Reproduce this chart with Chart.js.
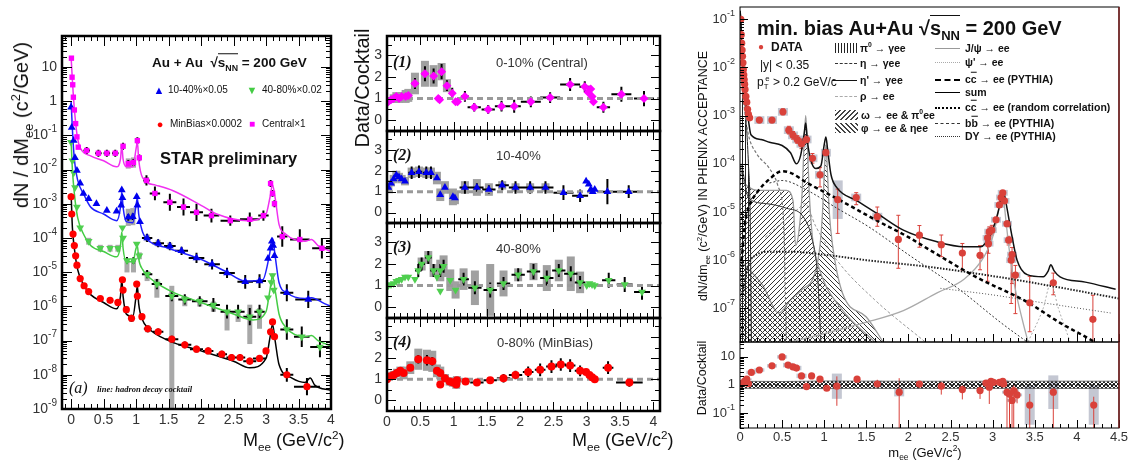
<!DOCTYPE html>
<html>
<head>
<meta charset="utf-8">
<script src="https://cdn.jsdelivr.net/npm/chart.js@4.4.1/dist/chart.umd.min.js"></script>
<style>
body { margin: 0; background: #fff; }
#wrap { position: relative; width: 1132px; height: 464px; overflow: hidden; font-family: "Liberation Sans", Arial, sans-serif; color: #111; }
canvas { position: absolute; }
.t { position: absolute; white-space: nowrap; transform: translateY(-50%); line-height: 1; }
.cc { position: absolute; white-space: nowrap; transform: translate(-50%, -50%); line-height: 1; }
.rot { position: absolute; white-space: nowrap; transform: translate(-50%, -50%) rotate(-90deg); line-height: 1; }
sub, sup { font-size: 65%; line-height: 0; }
.ov { border-top: 1.5px solid currentColor; padding-top: 1px; }
.ol { text-decoration: overline; }
.sw { position: absolute; height: 10px; transform: translateY(-50%); }
.ln { position: absolute; height: 0; }
.it { font-family: "Liberation Serif", "Times New Roman", serif; font-style: italic; }
.lg { font-size: 10.5px; font-weight: bold; }
</style>
</head>
<body>
<div id="wrap">
  <canvas id="star" width="340" height="464" style="left:0;top:0"></canvas>
  <canvas id="r1" width="335" height="464" style="left:335px;top:0"></canvas>
  <canvas id="r2" width="335" height="464" style="left:335px;top:0"></canvas>
  <canvas id="r3" width="335" height="464" style="left:335px;top:0"></canvas>
  <canvas id="r4" width="335" height="464" style="left:335px;top:0"></canvas>
  <canvas id="phx" width="462" height="464" style="left:670px;top:0"></canvas>
  <canvas id="phxr" width="462" height="464" style="left:670px;top:0"></canvas>

  <!-- STAR panel text -->
  <div class="rot" style="left:21px;top:125px;font-size:20px;">dN / dM<sub>ee</sub> (c<sup>2</sup>/GeV)</div>
  <div class="t" style="left:152px;top:63px;font-size:13.5px;font-weight:bold;">Au + Au &nbsp;√<span class="ov">s<sub>NN</sub></span> = 200 GeV</div>
  <div class="cc" style="left:159px;top:90px;font-size:11px;color:#0000ee;">▲</div>
  <div class="t" style="left:168px;top:90px;font-size:10px;">10-40%×0.05</div>
  <div class="cc" style="left:252px;top:90px;font-size:11px;color:#44cc44;">▼</div>
  <div class="t" style="left:262px;top:90px;font-size:10px;">40-80%×0.02</div>
  <div class="cc" style="left:160px;top:124px;font-size:11px;color:#ff0000;">●</div>
  <div class="t" style="left:170px;top:124px;font-size:10px;">MinBias×0.0002</div>
  <div class="cc" style="left:252px;top:124px;font-size:10px;color:#ff00ff;">■</div>
  <div class="t" style="left:262px;top:124px;font-size:10px;">Central×1</div>
  <div class="t" style="left:160px;top:158px;font-size:16.5px;font-weight:bold;">STAR preliminary</div>
  <div class="t it" style="left:69px;top:388px;font-size:16px;">(a)</div>
  <div class="t it" style="left:97px;top:389px;font-size:8.5px;font-weight:bold;">line: hadron decay cocktail</div>
  <div class="t" style="left:243px;top:440px;font-size:18px;">M<sub>ee</sub> (GeV/c<sup>2</sup>)</div>

  <!-- ratio panels text -->
  <div class="rot" style="left:362px;top:88px;font-size:20px;">Data/Cocktail</div>
  <div class="t it" style="left:393px;top:62px;font-size:16px;font-weight:bold;">(1)</div>
  <div class="t it" style="left:393px;top:155px;font-size:16px;font-weight:bold;">(2)</div>
  <div class="t it" style="left:393px;top:247px;font-size:16px;font-weight:bold;">(3)</div>
  <div class="t it" style="left:393px;top:342px;font-size:16px;font-weight:bold;">(4)</div>
  <div class="t" style="left:496px;top:62px;font-size:13px;color:#333;">0-10% (Central)</div>
  <div class="t" style="left:496px;top:155px;font-size:13px;color:#333;">10-40%</div>
  <div class="t" style="left:496px;top:248px;font-size:13px;color:#333;">40-80%</div>
  <div class="t" style="left:497px;top:342px;font-size:13px;color:#333;">0-80% (MinBias)</div>
  <div class="t" style="left:572px;top:440px;font-size:18px;">M<sub>ee</sub> (GeV/c<sup>2</sup>)</div>

  <!-- PHENIX text -->
  <div class="t" style="left:757px;top:28px;font-size:20px;font-weight:bold;">min. bias Au+Au √<span class="ov">s<sub>NN</sub></span> = 200 GeV</div>
  <div class="cc" style="left:761px;top:47px;font-size:10px;color:#d9413a;">●</div>
  <div class="t" style="left:771px;top:47px;font-size:12px;font-weight:bold;">DATA</div>
  <div class="t" style="left:760px;top:65px;font-size:12px;">|y| &lt; 0.35</div>
  <div class="t" style="left:757px;top:82px;font-size:12px;">p<sub>T</sub><sup style="margin-left:-0.4em">e</sup> &gt; 0.2 GeV/c</div>

  <div class="sw" style="left:835px;top:48px;width:22px;background:repeating-linear-gradient(90deg,#222 0 1px,transparent 1px 3px);"></div>
  <div class="t lg" style="left:860px;top:48px;">π<sup>0</sup> → γee</div>
  <div class="ln" style="left:835px;top:63px;width:22px;border-top:1.5px dashed #333;"></div>
  <div class="t lg" style="left:860px;top:63px;">η → γee</div>
  <div class="ln" style="left:832px;top:80px;width:25px;border-top:1px solid #111;"></div>
  <div class="t lg" style="left:860px;top:80px;">η' → γee</div>
  <div class="ln" style="left:835px;top:96px;width:22px;border-top:1px dashed #aaa;"></div>
  <div class="t lg" style="left:860px;top:96px;">ρ → ee</div>
  <div class="sw" style="left:835px;top:115px;width:23px;background:repeating-linear-gradient(135deg,#444 0 1px,transparent 1px 3.5px);"></div>
  <div class="t lg" style="left:861px;top:115px;">ω → ee &amp; π<sup>0</sup>ee</div>
  <div class="sw" style="left:835px;top:128px;width:23px;background:repeating-linear-gradient(45deg,#444 0 1px,transparent 1px 3.5px);"></div>
  <div class="t lg" style="left:861px;top:128px;">φ → ee &amp; ηee</div>

  <div class="ln" style="left:935px;top:48px;width:25px;border-top:1px solid #999;"></div>
  <div class="t lg" style="left:965px;top:48px;">J/ψ → ee</div>
  <div class="ln" style="left:935px;top:62px;width:25px;border-top:1px dotted #aaa;"></div>
  <div class="t lg" style="left:965px;top:62px;">ψ' → ee</div>
  <div class="ln" style="left:935px;top:79px;width:25px;border-top:2.5px dashed #000;"></div>
  <div class="t lg" style="left:965px;top:79px;">c<span class="ol">c</span> → ee (PYTHIA)</div>
  <div class="ln" style="left:935px;top:92px;width:25px;border-top:1.5px solid #000;"></div>
  <div class="t lg" style="left:965px;top:92px;">sum</div>
  <div class="ln" style="left:935px;top:107px;width:25px;border-top:2px dotted #000;"></div>
  <div class="t lg" style="left:965px;top:107px;">c<span class="ol">c</span> → ee (random correlation)</div>
  <div class="ln" style="left:935px;top:123px;width:25px;border-top:1px dashed #333;"></div>
  <div class="t lg" style="left:965px;top:123px;">b<span class="ol">b</span> → ee (PYTHIA)</div>
  <div class="ln" style="left:935px;top:136px;width:25px;border-top:1px dotted #333;"></div>
  <div class="t lg" style="left:965px;top:136px;">DY → ee (PYTHIA)</div>

  <div class="rot" style="left:703px;top:176px;font-size:12.5px;">dN/dm<sub>ee</sub> (c<sup>2</sup>/GeV) IN PHENIX ACCEPTANCE</div>
  <div class="rot" style="left:702px;top:378px;font-size:12.5px;">Data/Cocktail</div>
  <div class="cc" style="left:925px;top:452px;font-size:13px;">m<sub>ee</sub> (GeV/c<sup>2</sup>)</div>
</div>

<script>
// ---------- STAR (left): dN/dMee, scaled spectra ----------
const starXTicks = [0, 0.5, 1, 1.5, 2, 2.5, 3, 3.5, 4];
const starYTicks = [10, 1, 0.1, 1e-2, 1e-3, 1e-4, 1e-5, 1e-6, 1e-7, 1e-8, 1e-9];

// 0-10% central x1 (magenta squares)
const cenX  = [0.005,0.015,0.025,0.035,0.05,0.07,0.09,0.11, 0.24,0.42,0.55,0.68, 0.80,0.88,0.96,1.02,1.05, 1.16,1.29,1.52,1.73,1.93,2.16,2.45,2.75,2.96, 3.07,3.10,3.13, 3.25,3.52,3.86];
const cenY  = [18,5,3,1.3,0.55,0.22,0.09,0.045, 0.036,0.030,0.030,0.030, 0.048,0.015,0.016,0.070,0.022, 0.0048,0.0020,0.0011,0.0008,0.00056,0.00045,0.00032,0.00035,0.00045, 0.0039,0.0020,0.0010, 0.00011,0.00009,0.00005];
const cenEx = [0,0,0,0,0,0,0,0, 0.05,0.05,0.05,0.05, 0,0,0,0,0, 0.05,0.08,0.1,0.1,0.1,0.12,0.15,0.15,0.08, 0,0,0, 0.08,0.15,0.15];
const cenEy = [0,0,0,0,0,0,0,0, 0.1,0.1,0.1,0.1, 0.1,0.1,0.1,0.1,0.1, 0.15,0.2,0.25,0.25,0.25,0.2,0.15,0.2,0.15, 0.1,0.1,0.1, 0.3,0.3,0.3];
const cenSys = [0,0,0,0,0,0,0,0, 0.06,0.06,0.06,0.06, 0.05,0.15,0.15,0.05,0.05, 0.1,0,0,0,0,0,0,0,0, 0,0,0, 0,0,0];
const cenCkX = [0.0,0.02,0.05,0.1,0.15,0.3,0.5,0.7,0.76,0.78,0.8,0.85,0.95,1.0,1.02,1.04,1.1,1.3,1.57,2.0,2.24,2.72,3.0,3.06,3.1,3.14,3.2,3.3,3.6,3.7,3.8,4.0];
const cenCkY = [20,4,0.6,0.08,0.04,0.025,0.018,0.012,0.02,0.05,0.02,0.012,0.012,0.04,0.065,0.02,0.0058,0.0035,0.0024,0.0009,0.0005,0.00032,0.0005,0.0015,0.0035,0.0015,0.00025,0.00013,0.00008,0.00009,0.00006,0.00004];

// 10-40% x0.05 (blue triangles)
const b1X  = [0.0,0.01,0.04,0.06,0.09,0.14,0.19,0.27,0.39,0.55,0.70, 0.77,0.78,0.79, 0.88,0.95, 1.01,1.02,1.06, 1.17,1.34,1.52,1.70,1.93,2.17,2.40,2.68,2.90, 3.03,3.07,3.09,3.11,3.13, 3.32,3.65];
const b1Y  = [0.66,0.17,0.07,0.022,0.0093,0.004,0.002,0.0014,0.001,0.00063,0.0006, 0.0009,0.0025,0.0015, 0.0004,0.00042, 0.0016,0.0009,0.0003, 1.0e-4,7e-5,5.8e-5,4.2e-5,2.6e-5,1.7e-5,9.5e-6,5.2e-6,5.5e-6, 2.5e-5,5e-5,8e-5,6e-5,3e-5, 2.5e-6,1.6e-6];
const b1Ex = [0,0,0,0,0,0,0,0,0,0,0, 0,0,0, 0.03,0.03, 0,0,0, 0.08,0.09,0.09,0.1,0.12,0.12,0.12,0.12,0.1, 0,0,0,0,0, 0.1,0.2];
const b1Ey = [0,0,0,0,0,0,0,0,0,0,0, 0,0,0, 0.1,0.1, 0,0,0, 0.12,0.12,0.12,0.12,0.15,0.15,0.15,0.2,0.2, 0.05,0.05,0.05,0.05,0.05, 0.25,0.25];
const b1Sys = [0,0,0,0,0,0,0,0,0,0,0, 0,0,0, 0.25,0.25, 0,0,0, 0.1,0.1,0.1,0,0,0,0,0,0, 0,0,0,0,0, 0,0];
const b1CkX = [0.0,0.02,0.05,0.1,0.2,0.3,0.5,0.7,0.76,0.78,0.8,0.85,0.95,1.0,1.02,1.04,1.1,1.17,1.5,1.97,2.4,2.68,2.95,3.05,3.1,3.14,3.2,3.32,3.6,3.7,3.9,4.0];
const b1CkY = [1,0.15,0.02,0.005,0.0018,0.0008,0.0005,0.00032,0.0008,0.0022,0.0008,0.0003,0.00028,0.0009,0.0015,0.0005,0.00015,9e-5,5e-5,2.5e-5,1e-5,5.5e-6,6e-6,3e-5,1e-4,3e-5,5e-6,2.5e-6,1.7e-6,1.8e-6,1.2e-6,1e-6];

// 40-80% x0.02 (green inverted triangles)
const g2X  = [0.0,0.02,0.04,0.06,0.09,0.14,0.27,0.45,0.60,0.72, 0.79,0.80, 0.86,0.96, 1.01,1.05, 1.17,1.32,1.55,1.75,1.98,2.19,2.40,2.57,2.75,2.90, 3.03,3.08,3.10,3.12, 3.32,3.55,3.83];
const g2Y  = [0.063,0.018,0.008,0.003,0.0008,0.0002,8e-5,5e-5,5e-5,5e-5, 2e-4,1e-4, 2.2e-5,2.2e-5, 6.6e-5,3e-5, 8.7e-6,4.5e-6,2e-6,1.6e-6,1.4e-6,1.1e-6,7e-7,7e-7,5e-7,7e-7, 1.8e-6,5e-6,8e-6,3e-6, 2.1e-7,1.3e-7,6.5e-8];
const g2Ex = [0,0,0,0,0,0,0,0,0,0, 0,0, 0.03,0.03, 0,0, 0.08,0.08,0.1,0.1,0.12,0.1,0.1,0.1,0.1,0.08, 0,0,0,0, 0.1,0.12,0.15];
const g2Ey = [0,0,0,0,0,0,0,0,0,0, 0,0, 0.1,0.1, 0,0, 0.12,0.15,0.15,0.15,0.15,0.2,0.2,0.2,0.25,0.2, 0.05,0.05,0.05,0.05, 0.3,0.3,0.3];
const g2SysUp = [0,0,0,0,0,0,0.1,0.1,0.1,0.1, 0,0, 0.05,0.05, 0,0.1, 0.1,0.15,0.3,0.1,0.1,0.1,0.05,0.05,0.35,0.1, 0,0,0,0, 0,0,0];
const g2SysDn = [0,0,0,0,0,0,0.1,0.1,0.1,0.1, 0,0, 0.35,0.35, 0,0.1, 0.2,0.4,3.5,0.2,0.15,0.2,0.55,0.3,0.8,0.5, 0,0,0,0, 0,0,0];
const g2CkX = [0.0,0.02,0.05,0.1,0.2,0.3,0.5,0.7,0.76,0.78,0.8,0.85,0.95,1.0,1.02,1.04,1.1,1.17,1.5,2.0,2.5,2.8,3.0,3.06,3.1,3.14,3.2,3.3,3.6,3.7,3.8,4.0];
const g2CkY = [0.07,0.01,0.002,0.0004,0.00012,6e-5,4e-5,2.8e-5,6e-5,1.5e-4,5e-5,2e-5,2e-5,5e-5,6e-5,2.5e-5,1.2e-5,8e-6,3e-6,1.3e-6,6e-7,4e-7,7e-7,3e-6,8e-6,3e-6,6e-7,2.5e-7,1.3e-7,1.4e-7,1e-7,7e-8];

// MinBias x0.0002 (red circles)
const mbX  = [0.0,0.01,0.03,0.05,0.07,0.09,0.14,0.20,0.27,0.45,0.60,0.72, 0.79,0.80, 0.85,0.93, 1.01,1.02,1.09, 1.18,1.34,1.55,1.75,1.93,2.11,2.32,2.47,2.60,2.75,2.90, 3.00,3.07,3.10,3.13, 3.32,3.63];
const mbY  = [1.6e-3,5e-4,1.3e-4,6e-5,3e-5,1.6e-5,6.5e-6,4e-6,2.7e-6,1.7e-6,1.5e-6,1.3e-6, 6e-6,3e-6, 8e-7,4.5e-7, 4.5e-6,2e-6,5e-7, 2.2e-7,1.8e-7,1.1e-7,7.5e-8,5.6e-8,5e-8,4e-8,3.2e-8,3.2e-8,2.5e-8,3e-8, 5e-8,1.8e-7,3.5e-7,1.3e-7, 1e-8,4.5e-9];
const mbEx = [0,0,0,0,0,0,0,0,0,0,0,0, 0,0, 0.03,0.03, 0,0,0, 0.06,0.08,0.1,0.1,0.1,0.08,0.08,0.08,0.08,0.1,0.1, 0,0,0,0, 0.1,0.2];
const mbEy = [0,0,0,0,0,0,0,0,0,0,0,0, 0,0, 0.1,0.1, 0,0,0, 0.1,0.1,0.1,0.1,0.1,0.1,0.1,0.1,0.1,0.1,0.1, 0.05,0.05,0.05,0.05, 0.2,0.25];
const mbSys = [0,0,0,0,0,0,0,0,0,0,0,0, 0,0, 0.1,0.1, 0,0,0, 0.1,0,0,0,0,0,0,0,0,0,0, 0,0,0,0, 0,0];
const mbCkX = [0.0,0.02,0.05,0.1,0.2,0.3,0.5,0.7,0.76,0.78,0.8,0.85,0.95,1.0,1.02,1.04,1.1,1.17,1.5,2.0,2.5,2.75,3.0,3.06,3.1,3.14,3.2,3.4,3.6,3.68,3.75,4.0];
const mbCkY = [2e-3,2e-4,5e-5,1.2e-5,4e-6,2.2e-6,1.3e-6,8.5e-7,2e-6,6e-6,2e-6,6e-7,5e-7,2e-6,4e-6,1.2e-6,4e-7,2.5e-7,1e-7,5e-8,2.5e-8,1.6e-8,3e-8,1.2e-7,3e-7,1e-7,2e-8,8e-9,6e-9,8e-9,5e-9,3.5e-9];

// ---------- Data/Cocktail panels (middle) ----------
const midXTicks = [0, 0.5, 1, 1.5, 2, 2.5, 3, 3.5, 4];
const midYTicks = [0, 1, 2, 3];
const ratioRef = 1;

const r1X  = [0.02,0.06,0.10,0.14,0.18,0.22,0.28,0.32, 0.42,0.57,0.70,0.77,0.79,0.82,0.90,0.98,1.03,1.06, 1.17,1.31,1.52,1.72,1.91,2.16,2.45,2.75,2.97, 3.02,3.06,3.08,3.10, 3.25,3.52,3.86];
const r1Y  = [0.85,0.95,1.0,1.1,1.0,1.1,1.1,1.15, 1.7,2.15,2.05,1.0,0.95,2.25,1.6,1.25,0.85,0.85, 1.1,0.6,0.5,0.65,0.65,0.85,1.05,1.65,1.55, 1.3,1.45,1.1,0.85, 0.6,1.2,1.0];
const r1Ex = [0,0,0,0,0,0,0,0, 0.05,0.05,0.05,0,0,0.05,0.03,0.03,0,0, 0.06,0.1,0.1,0.1,0.1,0.15,0.15,0.15,0.08, 0,0,0,0, 0.1,0.15,0.15];
const r1Ey = [0,0,0,0,0,0,0,0, 0.25,0.35,0.35,0,0,0.35,0.25,0.25,0,0, 0.25,0.2,0.2,0.25,0.3,0.25,0.25,0.3,0.25, 0,0,0,0, 0.25,0.35,0.35];
const r1Sys = [0,0,0.2,0.2,0.2,0.2,0.3,0.3, 0.5,0.6,0.5,0,0,0.4,0.3,0,0,0, 0,0,0,0,0,0,0,0,0, 0,0,0,0, 0,0,0];

const r2X  = [0.02,0.06,0.10,0.14,0.18,0.22,0.27, 0.37,0.48,0.59,0.66,0.75,0.80,0.87,0.99,1.02, 1.17,1.35,1.53,1.73,1.93,2.15,2.38,2.65,2.90, 2.99,3.03,3.06,3.09,3.12, 3.31,3.63];
const r2Y  = [1.2,1.4,1.6,1.8,1.7,1.6,1.5, 1.9,1.95,1.9,1.9,1.65,0.85,1.2,0.75,0.7, 1.2,1.2,1.1,1.3,1.2,1.2,1.2,0.95,0.8, 1.5,1.35,1.1,1.0,1.1, 1.0,1.0];
const r2Ex = [0,0,0,0,0,0,0, 0.05,0.05,0.05,0.03,0,0,0,0,0, 0.08,0.1,0.1,0.1,0.1,0.12,0.12,0.15,0.12, 0,0,0,0,0, 0.15,0.15];
const r2Ey = [0,0,0,0,0,0,0, 0.3,0.3,0.3,0.3,0,0,0,0,0, 0.3,0.2,0.2,0.25,0.3,0.3,0.3,0.35,0.3, 0,0,0,0,0, 0.6,0.3];
const r2Sys = [0.15,0.15,0.2,0.2,0.2,0.2,0.2, 0.25,0.25,0.25,0.25,0.3,0.3,0.3,0.4,0.3, 0.3,0.4,0.3,0.2,0.2,0.2,0.2,0,0, 0,0,0,0,0, 0,0];

const r3X  = [0.02,0.06,0.10,0.14,0.18,0.22,0.27,0.32, 0.42,0.47,0.52,0.62,0.70,0.75,0.80,0.80,0.85,0.95,1.03, 1.15,1.32,1.55,1.75,1.97,2.20,2.40,2.58,2.76,2.90, 3.00,3.04,3.08,3.12, 3.33,3.57,3.83];
const r3Y  = [1.0,1.05,1.1,1.2,1.25,1.3,1.4,1.4, 1.3,1.7,2.0,2.3,1.7,1.4,1.7,0.75,1.9,1.25,0.8, 1.3,0.9,0.8,1.1,1.5,1.65,1.35,1.7,1.55,1.15, 1.0,1.1,1.05,1.0, 1.25,1.05,0.7];
const r3Ex = [0,0,0,0,0,0,0,0, 0,0.05,0.05,0.05,0.05,0,0.03,0,0.03,0,0, 0.08,0.1,0.1,0.1,0.1,0.1,0.1,0.1,0.1,0.08, 0,0,0,0, 0.1,0.12,0.12];
const r3Ey = [0,0,0,0,0,0,0,0, 0,0.3,0.3,0.3,0.3,0,0.3,0,0.3,0,0, 0.3,0.3,0.35,0.3,0.3,0.35,0.35,0.3,0.35,0.3, 0,0,0,0, 0.35,0.35,0.35];
const r3Sys = [0,0,0,0,0,0,0,0, 0,0,0.3,0.3,0.3,0,0.5,0,0.5,0.5,0.4, 0.5,0.8,1.2,0.6,0.3,0.4,0.6,0.5,0.8,0.5, 0,0,0,0, 0,0,0];

const r4X  = [0.0,0.05,0.10,0.15,0.20,0.25,0.35, 0.47,0.60,0.68,0.75,0.80,0.80,0.87,0.94,0.99,1.04,1.05, 1.18,1.35,1.55,1.75,1.93,2.12,2.30,2.47,2.61,2.75,2.90, 2.99,3.04,3.08,3.12, 3.32,3.64];
const r4Y  = [1.0,1.15,1.2,1.3,1.4,1.3,1.55, 1.95,1.9,1.85,1.4,1.3,0.75,1.05,0.9,0.85,0.75,0.95, 0.9,0.85,0.95,1.05,1.2,1.35,1.45,1.6,1.7,1.65,1.4, 1.35,1.2,1.1,1.0, 1.55,0.85];
const r4Ex = [0,0,0,0,0,0,0, 0.05,0.05,0.05,0,0,0,0,0,0,0,0, 0.06,0.1,0.1,0.1,0.1,0.08,0.08,0.08,0.08,0.08,0.08, 0,0,0,0, 0.08,0.2];
const r4Ey = [0,0,0,0,0,0,0, 0.2,0.25,0.2,0,0,0,0,0,0,0,0, 0.15,0.15,0.15,0.2,0.2,0.25,0.3,0.3,0.3,0.3,0.25, 0,0,0,0, 0.3,0.2];
const r4Sys = [0,0,0.2,0.2,0.2,0.3,0.3, 0.5,0.5,0.5,0.3,0.3,0,0.2,0.2,0.2,0.2,0.2, 0,0,0,0,0,0,0,0,0,0,0, 0,0,0,0, 0,0];

// ---------- PHENIX (right) ----------
const phxXTicks = [0, 0.5, 1, 1.5, 2, 2.5, 3, 3.5, 4, 4.5];
const phxYTicks = [0.1, 1e-2, 1e-3, 1e-4, 1e-5, 1e-6, 1e-7];
const phxRTicks = [10, 1, 0.1];

const phxX = [0.010,0.015,0.020,0.025,0.030,0.035,0.040,0.045,0.050,0.055,0.060,0.070,0.080,0.090,0.100,0.115, 0.23,0.38,0.51,0.58,0.63,0.68,0.73,0.79,0.86,0.95,1.02, 1.16,1.38,1.63,1.88,2.13,2.39,2.64,2.85, 2.94,2.95,2.96,2.99,3.04,3.08,3.10,3.12,3.14,3.17,3.19,3.22,3.23,3.27, 3.44,3.72,4.19];
const phxY = [0.1,0.048,0.032,0.023,0.017,0.0125,0.009,0.007,0.0056,0.0045,0.0035,0.0025,0.0019,0.00135,0.00107,0.0009, 8.1e-4,8.1e-4,1.2e-3,5e-4,3.9e-4,3.2e-4,2.6e-4,3.2e-4,1.3e-4,5.9e-5,1.7e-4, 1.8e-5,2e-5,8e-6,2.7e-6,3.3e-6,2.1e-6,1.4e-6,1.26e-6, 2.9e-6,2.2e-6,3.9e-6,4.2e-6,6.9e-6,1.4e-5,2e-5,2.5e-5,1.7e-5,5.7e-6,2.6e-6,1e-6,1.3e-6,4.9e-7, 1.3e-7,3.4e-7,5.9e-8];
const phxEup = [0,0,0,0,0,0,0,0,0,0,0,0,0,0,0,0, 0.04,0.04,0.06,0.08,0.08,0.08,0.1,0.08,0.1,0.15,0.06, 0.22,0.1,0.2,0.5,0.2,0.2,0.2,0.2, 0.1,0.15,0.1,0.1,0.05,0.05,0.04,0.04,0.04,0.06,0.08,0.15,0.15,0.2, 0.55,0.2,0.5];
const phxEdn = [0,0,0,0,0,0,0,0,0,0,0,0,0,0,0,0, 0.04,0.04,0.06,0.08,0.08,0.08,0.1,0.08,0.1,0.25,0.06, 0.7,0.15,0.2,0.6,0.25,0.25,0.35,0.3, 0.9,0.2,0.1,0.1,0.05,0.05,0.04,0.04,0.04,0.06,0.1,0.9,0.6,0.8, 0.6,0.25,2];
const phxSys = [0,0,0,0,0,0,0,0,0,0,0,0,0,0,0,0, 0.08,0.08,0.08,0.08,0.08,0.08,0.08,0.08,0.08,0.08,0.08, 0.4,0.08,0.08,0,0,0,0,0, 0.06,0.06,0.06,0.06,0.06,0.06,0.06,0.06,0.06,0.06,0.06,0.06,0.06,0.06, 0,0,0];

// cocktail components
const sumX = [0.0,0.01,0.02,0.04,0.07,0.1,0.13, 0.25,0.35,0.5,0.6,0.67,0.72,0.76,0.78,0.8,0.84, 0.9,0.96,1.0,1.02,1.04,1.08,1.15, 1.39,1.63,1.94,2.34,2.66,2.86, 2.98,3.04,3.08,3.11,3.14,3.17,3.23,3.29, 3.41,3.6,3.66,3.69,3.73,3.8,4.1,4.46];
const sumY = [0.15,0.1,0.03,0.006,0.0018,8e-4,4e-4, 3.2e-4,2.8e-4,2.4e-4,1.7e-4,1e-4,1.5e-4,4e-4,7e-4,3e-4,1.2e-4, 8e-5,9e-5,2.5e-4,3.6e-4,2e-4,6e-5,3.2e-5, 1.7e-5,9.3e-6,4.2e-6,2.4e-6,1.9e-6,1.9e-6, 3.6e-6,7e-6,1.3e-5,2.6e-5,2.2e-5,1.2e-5,3.1e-6,1e-6, 5e-7,4.5e-7,6e-7,8e-7,6e-7,4.5e-7,3.5e-7,2.5e-7];
const ccX = [0.02,0.06,0.1,0.2,0.35,0.5,0.6,0.8,1.15,1.6,2.0,2.26,2.8,3.41,3.8,4.17,4.3];
const ccY = [1e-6,6e-6,1.2e-5,2.5e-5,4.8e-5,7e-5,6.5e-5,4e-5,1.9e-5,7e-6,3e-6,1.6e-6,4.5e-7,1.35e-7,5e-8,2.2e-8,1.6e-8];
const rcX = [0.03,0.1,0.2,0.35,0.6,1.0,1.5,2.26,3.06,3.8,4.5];
const rcY = [2e-7,8e-7,1.3e-6,1.5e-6,1.5e-6,1.3e-6,1e-6,7.2e-7,4.5e-7,2.7e-7,1.6e-7];
const bbX = [0.35,0.5,0.8,1.15,1.53,2.0,2.6,3.1,3.41];
const bbY = [4e-5,4.5e-5,2.8e-5,1.2e-5,4.9e-6,1.3e-6,2.5e-7,5e-8,2e-8];
const dyX = [2.38,3.0,3.6,4.4];
const dyY = [2.6e-7,1.9e-7,1.3e-7,8e-8];
const jpsiX = [0.6,1.0,1.47,1.94,2.34,2.66,2.9,3.0,3.05,3.08,3.1,3.13,3.16,3.2,3.26,3.35,3.42];
const jpsiY = [2e-8,3e-8,5e-8,9e-8,2.1e-7,4e-7,1.2e-6,3e-6,7e-6,1.4e-5,2.4e-5,1.8e-5,6e-6,1.5e-6,3e-7,6e-8,2e-8];
const psi2X = [3.42,3.6,3.69,3.78,3.92];
const psi2Y = [2e-8,1e-7,3.3e-7,1e-7,2e-8];
const etaX = [0.02,0.05,0.1,0.2,0.35,0.45,0.52,0.55];
const etaY = [5e-3,1.5e-3,4e-4,1.6e-4,8e-5,3.5e-5,5e-6,2e-8];
const etapX = [0.02,0.1,0.3,0.55,0.75,0.85,0.92,0.96];
const etapY = [1e-4,2e-5,1.5e-5,1.2e-5,8e-6,3e-6,5e-7,2e-8];
const rhoX = [0.3,0.5,0.7,0.77,0.9,1.15,1.6,2.2];
const rhoY = [3e-6,6e-6,1.2e-5,1.5e-5,5e-6,1e-6,1.5e-7,2e-8];
const pi0X = [0.0,0.02,0.05,0.08,0.1,0.12,0.135];
const pi0Y = [0.15,0.03,0.003,5e-4,1e-4,1e-5,2e-8];
const omX = [0.0,0.05,0.27,0.55,0.63,0.66,0.7,0.74,0.76,0.78,0.8,0.82,0.86,0.95,1.2,1.6];
const omY = [1e-4,4e-5,2.8e-5,2.8e-5,1.7e-5,2e-6,4e-6,3e-5,2.5e-4,1e-3,2.5e-4,3e-5,3e-6,6e-7,1e-7,2e-8];
const phiX = [0.0,0.27,0.46,0.6,0.73,0.89,0.95,0.98,1.0,1.02,1.04,1.06,1.1,1.22,1.5,1.7];
const phiY = [1e-6,3e-7,8e-8,1.5e-7,2.4e-7,5.4e-7,2e-6,1e-5,6e-5,2.5e-4,6e-5,1e-5,2e-6,2e-7,6.6e-8,2e-8];

// PHENIX Data/Cocktail
const prX = [0.01,0.02,0.04,0.06,0.08,0.10, 0.135,0.23,0.38,0.50,0.57,0.63,0.67,0.73,0.79,0.85,0.95,1.03,1.15,1.39,1.63,1.89,2.13,2.39,2.64,2.85, 2.92,2.96,2.98,3.01,3.08,3.12,3.13,3.17,3.20,3.23,3.25,3.29, 3.44,3.72,4.20];
const prY = [1.08,1.1,1.2,1.4,1.6,1.1, 2.8,3.4,4.8,10,5.1,4.4,4.0,2.1,0.87,2.1,1.6,0.76,0.9,1.6,1.08,0.55,1.08,0.9,0.68,0.63, 1.17,0.83,1.35,1.24,1.24,1.35,1.08,0.55,0.46,0.28,0.63,0.44, 0.19,0.55,0.19];
const prEup = [0,0,0,0,0,0, 0,0,0,0,0.05,0.05,0.05,0.1,0.1,0.1,0.1,0.05,0.35,0.1,0.15,0.5,0.1,0.15,0.15,0.15, 0.1,0.15,0.1,0.1,0.05,0.05,0.05,0.1,0.15,0.15,0.2,0.2, 0.4,0.1,0.3];
const prEdn = [0,0,0,0,0,0, 0,0,0,0,0.05,0.05,0.05,0.1,0.1,0.1,0.1,0.05,0.7,0.1,0.15,1.5,0.15,0.3,0.35,0.3, 0.1,0.6,0.1,0.1,0.05,0.05,0.05,1.5,1.5,1.5,1.5,0.3, 1.5,1.5,1.5];
const prSys = [0.03,0.03,0.03,0.03,0.03,0.03, 0.06,0.06,0.06,0.06,0.08,0.08,0.08,0.08,0.05,0,0,0,0.45,0,0.12,0.15,0,0,0,0, 0.05,0.05,0.05,0.05,0.05,0.05,0.05,0.05,0.05,0.05,0.05,0.05, 0.7,0.6,0.7];
const prBandX  = [0, 0.5, 1.0, 1.5, 2.5, 3.5, 4.5];
const prBandLo = [0.75, 0.76, 0.74, 0.75, 0.75, 0.75, 0.75];
const prBandHi = [1.35, 1.32, 1.38, 1.36, 1.35, 1.36, 1.36];

// ---------- helpers ----------
const FONT = '"Liberation Sans", Arial, sans-serif';

function pts(xs, ys) { return xs.map((x, i) => ({x, y: ys[i]})); }

// error crosses; log panels use errors in decades
function bars(xs, ys, ex, eyUp, eyDn, log) {
  return xs.map((x, i) => ({
    x, y: ys[i], x0: x - ex[i], x1: x + ex[i],
    y0: log ? ys[i] / Math.pow(10, eyDn[i]) : ys[i] - eyDn[i],
    y1: log ? ys[i] * Math.pow(10, eyUp[i]) : ys[i] + eyUp[i]
  }));
}
function boxes(xs, ys, up, dn, log) {
  return xs.map((x, i) => (up[i] || dn[i]) ? {
    x, lo: log ? ys[i] / Math.pow(10, dn[i]) : ys[i] - dn[i],
    hi: log ? ys[i] * Math.pow(10, up[i]) : ys[i] + up[i]
  } : null);
}
const zeros = n => new Array(n).fill(0);

function hatch(kind, color, size) {
  const c = document.createElement('canvas');
  c.width = size; c.height = size;
  const g = c.getContext('2d');
  g.strokeStyle = color; g.lineWidth = 1;
  g.beginPath();
  if (kind === 'v') { g.moveTo(0.5, 0); g.lineTo(0.5, size); }
  if (kind === 'f' || kind === 'x') {
    g.moveTo(-1, size + 1); g.lineTo(size + 1, -1);
    g.moveTo(-1, 1); g.lineTo(1, -1);
    g.moveTo(size - 1, size + 1); g.lineTo(size + 1, size - 1);
  }
  if (kind === 'b' || kind === 'x') {
    g.moveTo(-1, -1); g.lineTo(size + 1, size + 1);
    g.moveTo(size - 1, -1); g.lineTo(size + 1, 1);
    g.moveTo(-1, size - 1); g.lineTo(1, size + 1);
  }
  g.stroke();
  return g.createPattern(c, 'repeat');
}

// error bars + systematic boxes, drawn under the markers
const errPlugin = {
  id: 'errbars',
  beforeDatasetsDraw(chart) {
    const {ctx, chartArea: a} = chart;
    const sx = chart.scales.x, sy = chart.scales.y;
    const py = v => {
      if (v <= sy.min) return a.bottom + 2;
      if (v >= sy.max) return a.top - 2;
      return sy.getPixelForValue(v);
    };
    ctx.save();
    ctx.beginPath();
    ctx.rect(a.left, a.top, a.right - a.left, a.bottom - a.top);
    ctx.clip();
    chart.data.datasets.forEach(ds => {
      if (!ds.sysBoxes) return;
      ctx.fillStyle = ds.sysColor;
      ds.sysBoxes.forEach(b => {
        if (!b) return;
        const px = sx.getPixelForValue(b.x), t = py(b.hi);
        ctx.fillRect(px - ds.sysHalf, t, 2 * ds.sysHalf, py(b.lo) - t);
      });
    });
    chart.data.datasets.forEach(ds => {
      if (!ds.errBars) return;
      ctx.strokeStyle = ds.errColor;
      ctx.lineWidth = ds.errWidth;
      ctx.beginPath();
      ds.errBars.forEach(b => {
        const px = sx.getPixelForValue(b.x), yy = py(b.y);
        if (b.x1 > b.x0) {
          ctx.moveTo(sx.getPixelForValue(b.x0), yy);
          ctx.lineTo(sx.getPixelForValue(b.x1), yy);
        }
        if (b.y1 > b.y0) {
          const t = py(b.y1), bt = py(b.y0);
          ctx.moveTo(px, t); ctx.lineTo(px, bt);
          if (ds.errCap) {
            ctx.moveTo(px - ds.errCap, t); ctx.lineTo(px + ds.errCap, t);
            ctx.moveTo(px - ds.errCap, bt); ctx.lineTo(px + ds.errCap, bt);
          }
        }
      });
      ctx.stroke();
    });
    ctx.restore();
  }
};

function tickList(scale, spec) {
  const out = [];
  if (spec.log) {
    const d0 = Math.floor(Math.log10(scale.min)), d1 = Math.ceil(Math.log10(scale.max));
    for (let d = d0; d <= d1; d++) {
      for (let k = 1; k <= 9; k++) {
        const v = k * Math.pow(10, d);
        if (v >= scale.min * 0.9999 && v <= scale.max * 1.0001) out.push({v, major: k === 1});
      }
    }
  } else {
    const n0 = Math.ceil(scale.min / spec.minor - 1e-6), n1 = Math.floor(scale.max / spec.minor + 1e-6);
    for (let n = n0; n <= n1; n++) {
      const v = n * spec.minor, r = v / spec.major;
      out.push({v, major: Math.abs(r - Math.round(r)) < 1e-6});
    }
  }
  return out;
}

function drawYLabel(ctx, v, xr, y, size, log) {
  let base = String(v), exp = '';
  if (log && v !== 1 && v !== 10) { base = '10'; exp = String(Math.round(Math.log10(v))); }
  const es = Math.round(size * 0.68);
  ctx.textAlign = 'left';
  ctx.font = size + 'px ' + FONT;
  const wb = ctx.measureText(base).width;
  ctx.font = es + 'px ' + FONT;
  const we = exp ? ctx.measureText(exp).width : 0;
  const x0 = xr - wb - we;
  ctx.font = size + 'px ' + FONT;
  ctx.fillText(base, x0, y);
  if (exp) { ctx.font = es + 'px ' + FONT; ctx.fillText(exp, x0 + wb, y - size * 0.42); }
}

// ROOT-style frame: inward ticks, box, tick labels
const framePlugin = {
  id: 'frame',
  afterDraw(chart, args, o) {
    const {ctx, chartArea: a} = chart;
    const sx = chart.scales.x, sy = chart.scales.y;
    const sides = o.sides;
    ctx.save();
    ctx.strokeStyle = '#000';
    ctx.lineWidth = o.tickWidth;
    ctx.beginPath();
    tickList(sx, o.x).forEach(t => {
      const p = Math.round(sx.getPixelForValue(t.v)) + 0.5, L = t.major ? o.major : o.minor;
      if (sides.includes('b')) { ctx.moveTo(p, a.bottom); ctx.lineTo(p, a.bottom - L); }
      if (sides.includes('t')) { ctx.moveTo(p, a.top); ctx.lineTo(p, a.top + L); }
    });
    tickList(sy, o.y).forEach(t => {
      const p = Math.round(sy.getPixelForValue(t.v)) + 0.5, L = t.major ? o.major : o.minor;
      if (sides.includes('l')) { ctx.moveTo(a.left, p); ctx.lineTo(a.left + L, p); }
      if (sides.includes('r')) { ctx.moveTo(a.right, p); ctx.lineTo(a.right - L, p); }
    });
    ctx.stroke();
    ctx.lineWidth = o.frameWidth;
    ctx.strokeRect(a.left, a.top, a.right - a.left, a.bottom - a.top);
    if (o.rightColor) {
      ctx.strokeStyle = o.rightColor;
      ctx.lineWidth = 1.5;
      ctx.beginPath(); ctx.moveTo(a.right, a.top); ctx.lineTo(a.right, a.bottom); ctx.stroke();
    }
    ctx.fillStyle = o.labelColor;
    ctx.textBaseline = 'middle';
    if (o.xLabels) {
      ctx.textAlign = 'center';
      ctx.font = o.font + 'px ' + FONT;
      o.xLabels.forEach(v => ctx.fillText(String(v), sx.getPixelForValue(v), a.bottom + o.xGap));
    }
    if (o.yLabels) o.yLabels.forEach(v => drawYLabel(ctx, v, a.left - o.yGap, sy.getPixelForValue(v), o.font, o.y.log));
    ctx.restore();
  }
};

function makeChart(id, pad, xr, yr, ylog, datasets, frame) {
  return new Chart(document.getElementById(id), {
    type: 'scatter',
    data: {datasets},
    options: {
      responsive: false, animation: false, events: [],
      layout: {padding: pad},
      plugins: {legend: {display: false}, tooltip: {enabled: false}, frame},
      scales: {
        x: {type: 'linear', min: xr[0], max: xr[1], display: false},
        y: {type: ylog ? 'logarithmic' : 'linear', min: yr[0], max: yr[1], display: false}
      }
    },
    plugins: [errPlugin, framePlugin]
  });
}

function markers(xs, ys, color, style, extra) {
  return Object.assign({
    data: pts(xs, ys), showLine: false, order: 0,
    pointStyle: style, pointRadius: 4, pointBorderWidth: 0,
    backgroundColor: color, borderColor: color
  }, extra);
}
function curve(xs, ys, color, width, extra) {
  return Object.assign({
    type: 'line', data: pts(xs, ys), pointRadius: 0, borderColor: color, borderWidth: width,
    fill: false, order: 5, cubicInterpolationMode: 'monotone'
  }, extra);
}

// ---------- STAR chart ----------
const starSysColor = '#a8a8a8';
function starSeries(xs, ys, ex, ey, up, dn, color, style, rot, r) {
  return markers(xs, ys, color, style, {
    pointRotation: rot, pointRadius: r,
    errBars: bars(xs, ys, ex, ey, ey, true), errColor: '#000', errWidth: 2,
    sysBoxes: boxes(xs, ys, up, dn, true), sysColor: starSysColor, sysHalf: 2.5
  });
}
makeChart('star', {left: 62, top: 36, right: 9, bottom: 55}, [-0.14, 4.0], [1e-9, 80], true, [
  starSeries(cenX, cenY, cenEx, cenEy, cenSys, cenSys, '#ff00ff', 'rect', 0, 3.8),
  starSeries(b1X, b1Y, b1Ex, b1Ey, b1Sys, b1Sys, '#0000ee', 'triangle', 0, 4.5),
  starSeries(g2X, g2Y, g2Ex, g2Ey, g2SysUp, g2SysDn, '#4fcf4f', 'triangle', 180, 4.5),
  starSeries(mbX, mbY, mbEx, mbEy, mbSys, mbSys, '#ff0000', 'circle', 0, 3.6),
  curve(cenCkX, cenCkY, '#f030f0', 1.5),
  curve(b1CkX, b1CkY, '#2020ff', 1.5),
  curve(g2CkX, g2CkY, '#44cc44', 1.5),
  curve(mbCkX, mbCkY, '#000000', 1.5)
], {
  sides: 'lrtb', x: {minor: 0.1, major: 0.5}, y: {log: true},
  major: 10, minor: 5, tickWidth: 1, frameWidth: 2.5,
  xLabels: starXTicks, yLabels: starYTicks, font: 14, labelColor: '#333', xGap: 11, yGap: 5
});

// ---------- Data/Cocktail panels ----------
const panelBox = [[36, 131], [131, 223], [223, 318], [318, 411]];
const ratioSets = [
  [r1X, r1Y, r1Ex, r1Ey, r1Sys, '#ff00ff', 'rectRot', 0, 4.5],
  [r2X, r2Y, r2Ex, r2Ey, r2Sys, '#0000ee', 'triangle', 0, 4.5],
  [r3X, r3Y, r3Ex, r3Ey, r3Sys, '#4fcf4f', 'triangle', 180, 4.5],
  [r4X, r4Y, r4Ex, r4Ey, r4Sys, '#ff0000', 'circle', 0, 4]
];
ratioSets.forEach((s, k) => {
  const [xs, ys, ex, ey, sys, color, style, rot, r] = s;
  makeChart('r' + (k + 1), {left: 52, top: panelBox[k][0], right: 10, bottom: 464 - panelBox[k][1]}, [0, 4.1], [-0.5, 3.9], false, [
    markers(xs, ys, color, style, {
      pointRotation: rot, pointRadius: r,
      errBars: bars(xs, ys, ex, ey, ey, false), errColor: '#000', errWidth: 2,
      sysBoxes: boxes(xs, ys, sys, sys, false), sysColor: '#a0a0a0', sysHalf: 4
    }),
    curve([0, 4.1], [ratioRef, ratioRef], '#9a9a9a', 3, {borderDash: [6, 4], cubicInterpolationMode: 'default'})
  ], {
    sides: 'lrtb', x: {minor: 0.1, major: 0.5}, y: {minor: 0.5, major: 1},
    major: 9, minor: 5, tickWidth: 1, frameWidth: 2.5,
    xLabels: k === 3 ? midXTicks : null, yLabels: midYTicks, font: 14, labelColor: '#333', xGap: 11, yGap: 5
  });
});

// ---------- PHENIX main ----------
const phxRed = '#d9413a';
const hatchF = hatch('f', '#333', 5);
const hatchB = hatch('b', '#333', 5);
const hatchV = hatch('v', '#222', 3);
makeChart('phx', {left: 70, top: 7, right: 13, bottom: 122}, [0, 4.5], [2e-8, 0.18], true, [
  markers(phxX, phxY, phxRed, 'circle', {
    pointRadius: 3.6,
    errBars: bars(phxX, phxY, zeros(phxX.length), phxEup, phxEdn, true), errColor: phxRed, errWidth: 1, errCap: 2,
    sysBoxes: boxes(phxX, phxY, phxSys, phxSys, true), sysColor: '#c4c7d2', sysHalf: 5
  }),
  curve(sumX, sumY, '#111', 1.5, {order: 2}),
  curve(ccX, ccY, '#000', 2.5, {borderDash: [4, 3], order: 3}),
  curve(rcX, rcY, '#222', 2, {borderDash: [1.5, 1.5], order: 3}),
  curve(bbX, bbY, '#333', 1, {borderDash: [2, 2], order: 3}),
  curve(dyX, dyY, '#555', 1, {borderDash: [1, 2], order: 3}),
  curve(jpsiX, jpsiY, '#aaa', 1.3, {order: 3}),
  curve(psi2X, psi2Y, '#aaa', 1, {borderDash: [2, 2], order: 3}),
  curve(etaX, etaY, '#777', 1.2, {borderDash: [3, 2], order: 3}),
  curve(etapX, etapY, '#333', 1, {order: 3}),
  curve(rhoX, rhoY, '#999', 1, {borderDash: [3, 2], order: 3}),
  curve(pi0X, pi0Y, '#222', 1, {fill: 'start', backgroundColor: hatchV, order: 8}),
  curve(omX, omY, '#9a9a9a', 1.3, {fill: 'start', backgroundColor: hatchF, order: 9}),
  curve(phiX, phiY, '#9a9a9a', 1.3, {fill: 'start', backgroundColor: hatchB, order: 9})
], {
  sides: 'lb', x: {minor: 0.1, major: 0.5}, y: {log: true},
  major: 8, minor: 4, tickWidth: 1, frameWidth: 1, rightColor: '#7a2020',
  xLabels: null, yLabels: phxYTicks, font: 13, labelColor: '#333', xGap: 10, yGap: 5
});

// ---------- PHENIX Data/Cocktail ----------
const hatchX = hatch('x', '#222', 4);
makeChart('phxr', {left: 70, top: 342, right: 13, bottom: 36}, [0, 4.5], [0.029, 34], true, [
  markers(prX, prY, phxRed, 'circle', {
    pointRadius: 3.6,
    errBars: bars(prX, prY, zeros(prX.length), prEup, prEdn, true), errColor: phxRed, errWidth: 1, errCap: 0,
    sysBoxes: boxes(prX, prY, prSys, prSys, true), sysColor: '#c4c7d2', sysHalf: 5
  }),
  curve([0, 4.5], [ratioRef, ratioRef], '#000', 1, {borderDash: [4, 3], order: 3, cubicInterpolationMode: 'default'}),
  curve(prBandX, prBandLo, '#555', 0.8, {order: 6}),
  curve(prBandX, prBandHi, '#555', 0.8, {fill: '-1', backgroundColor: hatchX, order: 6})
], {
  sides: 'lb', x: {minor: 0.1, major: 0.5}, y: {log: true},
  major: 8, minor: 4, tickWidth: 1, frameWidth: 1, rightColor: '#7a2020',
  xLabels: phxXTicks, yLabels: phxRTicks, font: 13, labelColor: '#333', xGap: 9, yGap: 5
});
</script>
</body>
</html>
